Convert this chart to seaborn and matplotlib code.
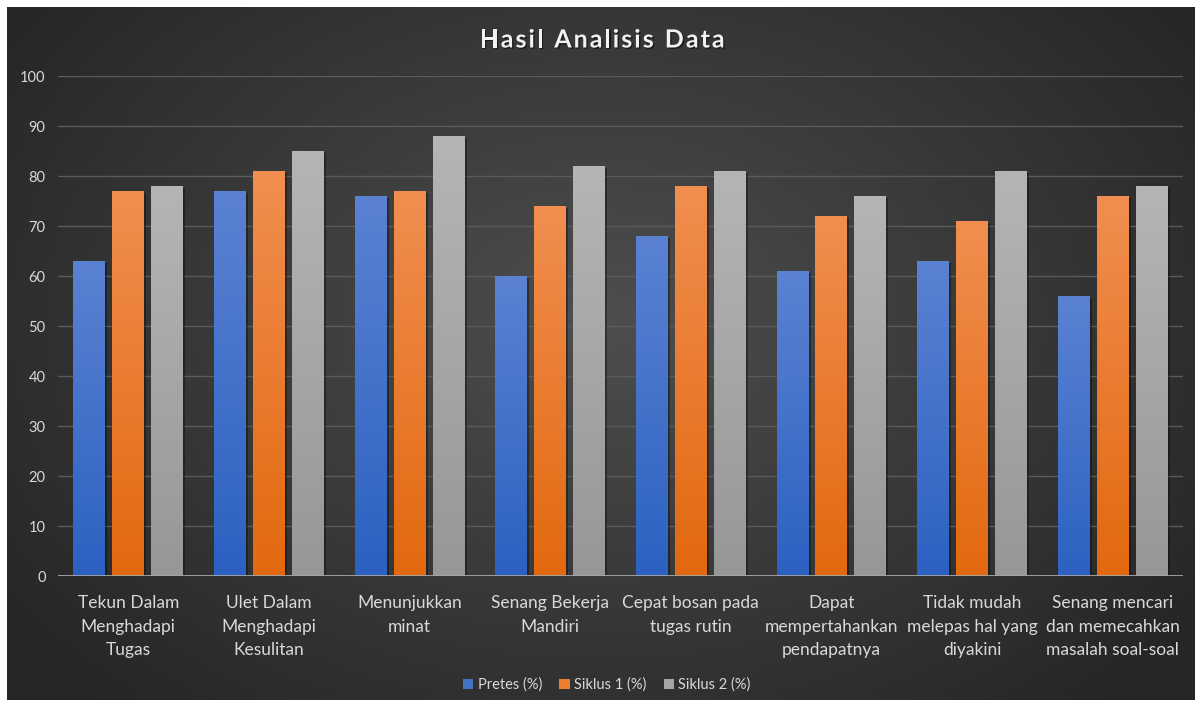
import numpy as np
import pandas as pd
import matplotlib
matplotlib.use("Agg")
import matplotlib.pyplot as plt
import matplotlib.patheffects as pe
from matplotlib.colors import LinearSegmentedColormap, to_rgb
from matplotlib.patches import Rectangle
import seaborn as sns

# ---- data ----
categories = [
    "Tekun Dalam\nMenghadapi\nTugas",
    "Ulet Dalam\nMenghadapi\nKesulitan",
    "Menunjukkan\nminat",
    "Senang Bekerja\nMandiri",
    "Cepat bosan pada\ntugas rutin",
    "Dapat\nmempertahankan\npendapatnya",
    "Tidak mudah\nmelepas hal yang\ndiyakini",
    "Senang mencari\ndan memecahkan\nmasalah soal-soal",
]
series_names = ["Pretes (%)", "Siklus 1 (%)", "Siklus 2 (%)"]
pretes = [63, 77, 76, 60, 68, 61, 63, 56]
siklus1 = [77, 81, 77, 74, 78, 72, 71, 76]
siklus2 = [78, 85, 88, 82, 81, 76, 81, 78]
yticks = [0, 10, 20, 30, 40, 50, 60, 70, 80, 90, 100]
title = "Hasil Analisis Data"

df = pd.DataFrame({
    "Kategori": categories * 3,
    "Seri": [s for s in series_names for _ in categories],
    "Nilai": pretes + siklus1 + siklus2,
})

# top / bottom colours of each bar gradient
grad_colors = [("#5b82d2", "#2c61c2"), ("#f18e50", "#e2690f"), ("#b5b5b5", "#979797")]
mid_colors = ["#4472c4", "#ed7d31", "#a5a5a5"]

sns.set_theme(style="dark")
plt.rcParams["font.family"] = ["Lato", "DejaVu Sans"]

W, H = 1197, 704
fig = plt.figure(figsize=(W / 100, H / 100), dpi=100, facecolor="white")

# dark radial-gradient panel behind the chart
bg = fig.add_axes([7 / W, 4 / H, (1195 - 7) / W, (700 - 7) / H], zorder=0)
ny, nx = 240, 420
yy, xx = np.mgrid[0:1:ny * 1j, 0:1:nx * 1j]
d = np.sqrt(((xx - 0.5) / 0.62) ** 2 + ((yy - 0.55) / 0.75) ** 2)
d = np.clip(d, 0, 1)
c_in = np.array(to_rgb("#4e4e4e"))
c_out = np.array(to_rgb("#262626"))
img = c_in[None, None, :] * (1 - d[..., None]) + c_out[None, None, :] * d[..., None]
bg.imshow(img, extent=[0, 1, 0, 1], aspect="auto", origin="lower")
bg.set_axis_off()

ax = fig.add_axes([58 / W, 128 / H, 1125 / W, 500 / H], zorder=1)
ax.patch.set_alpha(0)

sns.barplot(data=df, x="Kategori", y="Nilai", hue="Seri", palette=mid_colors,
            width=0.83, gap=0.18, ax=ax, legend=False, errorbar=None,
            linewidth=0, edgecolor="none")

# vertical gradient on each bar, with a soft drop shadow
for cont, (top, bot) in zip(ax.containers, grad_colors):
    cmap = LinearSegmentedColormap.from_list("g", [bot, top])
    grad = np.linspace(0, 1, 256).reshape(-1, 1)
    for bar in cont:
        x0, w, h = bar.get_x(), bar.get_width(), bar.get_height()
        bar.set_path_effects([pe.SimplePatchShadow(offset=(1.5, -1.5), shadow_rgbFace="black", alpha=0.35),
                              pe.Normal()])
        ax.imshow(grad, cmap=cmap, extent=[x0, x0 + w, 0, h], aspect="auto",
                  origin="lower", zorder=3)

ax.set_xlim(-0.5, 7.5)
ax.set_ylim(0, 100)
ax.set_yticks(yticks)
ax.set_yticklabels([str(v) for v in yticks])
ax.yaxis.grid(True, color="#5a5a5a", lw=1)
ax.xaxis.grid(False)
ax.set_axisbelow(True)
ax.axhline(0, color="#a6a6a6", lw=2, zorder=4)
for s in ax.spines.values():
    s.set_visible(False)
ax.set_xlabel("")
ax.set_ylabel("")
ax.tick_params(axis="y", length=0, pad=9, labelsize=10.5, labelcolor="#d9d9d9")
ax.tick_params(axis="x", length=0, pad=14, labelsize=12.5, labelcolor="#d9d9d9")
for lab in ax.get_xticklabels():
    lab.set_linespacing(1.55)
    lab.set_multialignment("center")

# letter-spaced bold title
renderer = fig.canvas.get_renderer()
tkw = dict(fontsize=18, fontweight="bold", color="#f2f2f2", va="center", ha="left",
           path_effects=[pe.withSimplePatchShadow(offset=(1, -1), shadow_rgbFace="black", alpha=0.5)])
spacing = 2.0 / W
widths = []
for ch in title:
    t = fig.text(0, 0, ch if ch != " " else "a", **tkw)
    wpx = t.get_window_extent(renderer).width
    t.remove()
    widths.append((wpx * (0.55 if ch == " " else 1)) / W)
total = sum(widths) + spacing * (len(title) - 1)
x = 0.503 - total / 2
for ch, wch in zip(title, widths):
    if ch != " ":
        fig.text(x, 1 - 40 / H, ch, **tkw)
    x += wch + spacing

handles = [Rectangle((0, 0), 1, 1, facecolor=c, edgecolor="none") for c in mid_colors]
fig.legend(handles, series_names, loc="center", bbox_to_anchor=(0.507, 1 - 685 / H),
           ncol=3, frameon=False, handlelength=0.7, handleheight=0.7,
           handletextpad=0.3, columnspacing=1.2, fontsize=10.5, labelcolor="#d9d9d9")

fig.savefig("out.png", dpi=100, facecolor="white")
